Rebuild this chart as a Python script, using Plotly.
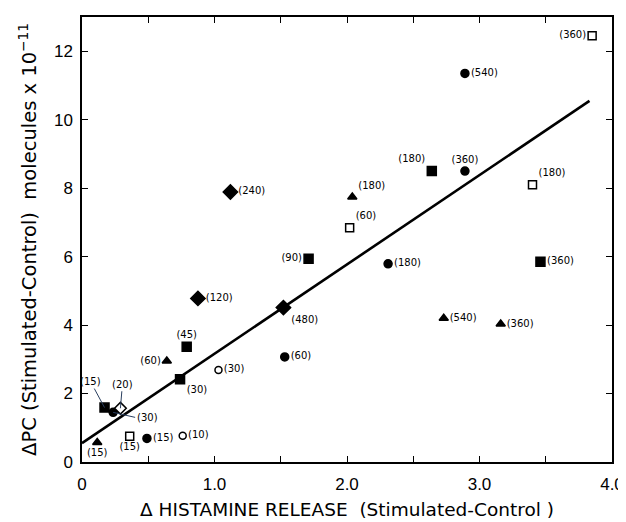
import plotly.graph_objects as go

# ---- data (x = delta histamine release, y = delta PC x 1e-11, labels = minutes) ----
fsq_x = [0.17, 0.74, 0.79, 1.71, 2.64, 3.46]
fsq_y = [1.59, 2.42, 3.37, 5.94, 8.50, 5.85]
fsq_t = ["(15)", "(30)", "(45)", "(90)", "(180)", "(360)"]

fci_x = [0.49, 0.235, 1.53, 2.31, 2.89, 2.89]
fci_y = [0.69, 1.45, 3.07, 5.79, 8.50, 11.35]
fci_t = ["(15)", "(30)", "(60)", "(180)", "(360)", "(540)"]

fdi_x = [0.875, 1.12, 1.52]
fdi_y = [4.78, 7.89, 4.51]
fdi_t = ["(120)", "(240)", "(480)"]

tri_x = [0.115, 0.64, 2.04, 3.16, 2.73]
tri_y = [0.57, 2.95, 7.74, 4.03, 4.20]
tri_t = ["(15)", "(60)", "(180)", "(360)", "(540)"]

osq_x = [0.36, 2.02, 3.40, 3.85]
osq_y = [0.75, 6.84, 8.10, 12.45]
osq_t = ["(15)", "(60)", "(180)", "(360)"]

oci_x = [0.76, 1.03]
oci_y = [0.77, 2.69]
oci_t = ["(10)", "(30)"]

odi_x = [0.29]
odi_y = [1.57]
odi_t = ["(20)"]

fit_x = [0.0, 3.83]
fit_y = [0.55, 10.55]

x_tickvals = [0, 0.5, 1.0, 1.5, 2.0, 2.5, 3.0, 3.5, 4.0]
x_ticktext = ["0", "", "1.0", "", "2.0", "", "3.0", "", "4.0"]
y_tickvals = [0, 2, 4, 6, 8, 10, 12]
y_ticktext = ["0", "2", "4", "6", "8", "10", "12"]

# ---- label placement (style) ----
fsq_pos = [None, "bottom right", "top center", "middle left", "top left", "middle right"]
fci_pos = ["middle right", None, "middle right", "middle right", "top center", "middle right"]
fdi_pos = ["middle right", "middle right", "bottom right"]
tri_pos = ["bottom center", "middle left", "top right", "middle right", "middle right"]
osq_pos = ["bottom center", "top right", "top right", "middle left"]
oci_pos = ["middle right", "middle right"]

LABEL_FONT = dict(family="DejaVu Sans", size=10, color="black")

fig = go.Figure()

def add_series(xs, ys, ts, pos, symbol, size, filled=True):
    texts = [t if p is not None else "" for t, p in zip(ts, pos)]
    tpos = [p if p is not None else "middle right" for p in pos]
    fig.add_trace(go.Scatter(
        x=xs, y=ys, mode="markers+text", text=texts, textposition=tpos,
        textfont=LABEL_FONT,
        marker=dict(symbol=symbol, size=size,
                    color="black" if filled else "white",
                    line=dict(color="black", width=1.5)),
        showlegend=False, cliponaxis=False))

# regression line
fig.add_trace(go.Scatter(x=fit_x, y=fit_y, mode="lines",
                         line=dict(color="black", width=2.6), showlegend=False))

add_series(fsq_x, fsq_y, fsq_t, fsq_pos, "square", 9)
add_series(fci_x, fci_y, fci_t, fci_pos, "circle", 8)
add_series(fdi_x, fdi_y, fdi_t, fdi_pos, "diamond", 11)
add_series(tri_x, tri_y, tri_t, tri_pos, "triangle-up", 8)
add_series(osq_x, osq_y, osq_t, osq_pos, "square", 8, filled=False)
add_series(oci_x, oci_y, oci_t, oci_pos, "circle", 7, filled=False)
add_series(odi_x, odi_y, odi_t, [None], "diamond", 9, filled=False)

# leader-line labels in the crowded corner
fig.add_annotation(x=fsq_x[0], y=fsq_y[0], text=fsq_t[0], showarrow=True, arrowhead=0,
                   arrowwidth=1, ax=-14, ay=-26, font=LABEL_FONT)
fig.add_annotation(x=odi_x[0], y=odi_y[0], text=odi_t[0], showarrow=True, arrowhead=0,
                   arrowwidth=1, ax=2, ay=-24, font=LABEL_FONT)
fig.add_annotation(x=fci_x[1], y=fci_y[1], text=fci_t[1], showarrow=True, arrowhead=0,
                   arrowwidth=1, ax=22, ay=5, xanchor="left", font=LABEL_FONT)

AX_FONT = dict(family="Liberation Sans", size=17, color="black")

fig.update_layout(
    width=618, height=514,
    margin=dict(l=74, r=14, t=9, b=60),
    paper_bgcolor="white", plot_bgcolor="white",
    font=AX_FONT,
    xaxis=dict(range=[0, 4.0], tickvals=x_tickvals, ticktext=x_ticktext,
               ticks="inside", ticklen=6, tickwidth=1, tickcolor="black",
               showline=True, linecolor="black", linewidth=1.5, mirror="allticks",
               showgrid=False, zeroline=False, tickfont=AX_FONT, automargin=False,
               ticklabelstandoff=6, ticklabeloverflow="allow",
               title=dict(text="Δ HISTAMINE RELEASE  (Stimulated-Control )",
                          font=dict(family="DejaVu Sans", size=18.5, color="black"),
                          standoff=10)),
    yaxis=dict(range=[0, 13], tickvals=y_tickvals, ticktext=y_ticktext,
               ticks="inside", ticklen=6, tickwidth=1, tickcolor="black",
               showline=True, linecolor="black", linewidth=1.5, mirror="allticks",
               showgrid=False, zeroline=False, tickfont=AX_FONT, automargin=False,
               ticklabelstandoff=4, ticklabeloverflow="allow",
               title=dict(text="ΔPC (Stimulated-Control)  molecules x 10<sup>−11</sup>",
                          font=dict(family="DejaVu Sans", size=19.5, color="black"),
                          standoff=12)),
)

fig.write_html("out.html")
